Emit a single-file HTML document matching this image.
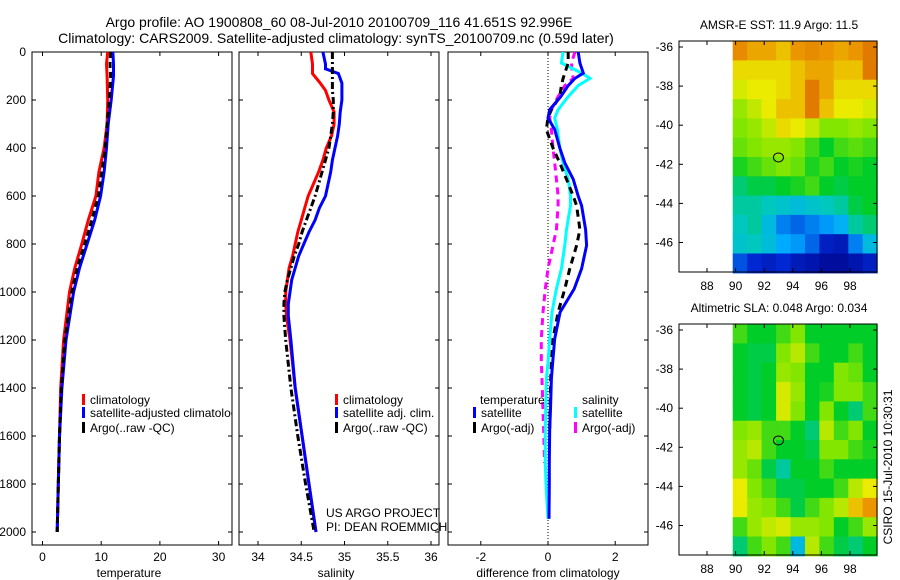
<!DOCTYPE html>
<html><head><meta charset="utf-8"><style>
html,body{margin:0;padding:0;background:#fff;}
svg{display:block;font-family:"Liberation Sans",sans-serif;}
</style></head><body>
<svg id="fig" width="900" height="580" viewBox="0 0 900 580">
<defs><clipPath id="c1"><rect x="32" y="52" width="200" height="493"/></clipPath>
<clipPath id="c2"><rect x="239" y="52" width="200" height="493"/></clipPath>
<clipPath id="c3"><rect x="448" y="52" width="200" height="493"/></clipPath></defs>
<text x="339" y="27" font-size="14" text-anchor="middle">Argo profile: AO 1900808_60 08-Jul-2010 20100709_116 41.651S 92.996E</text>
<text x="336" y="43" font-size="14" text-anchor="middle">Climatology: CARS2009. Satellite-adjusted climatology: synTS_20100709.nc (0.59d later)</text>
<g id="g"></g>
</svg>
<script>
// ---- profile data (depth in m) ----
const tDepth=[0,50,100,200,300,400,500,600,700,800,900,1000,1200,1400,1600,1800,2000];
const tClim=[11.1,10.9,11.0,11.1,11.0,10.5,9.6,9.1,7.8,6.7,5.5,4.6,3.6,3.1,2.9,2.7,2.5];
const tSat=[12.0,12.1,12.1,11.7,11.2,10.9,10.5,9.9,8.9,7.6,6.3,5.3,4.0,3.3,2.9,2.7,2.5];
const tArgo=[11.6,11.5,11.6,11.4,11.0,10.7,10.1,9.5,8.4,7.2,5.9,5.0,3.8,3.2,2.9,2.7,2.5];
const sDepth=[0,50,70,90,130,160,200,250,300,350,400,450,500,550,600,650,700,750,800,850,900,950,1000,1050,1100,1200,1400,1600,1800,2000];
const sClim=[34.61,34.63,34.63,34.63,34.72,34.78,34.82,34.88,34.88,34.85,34.79,34.75,34.70,34.64,34.58,34.54,34.50,34.46,34.43,34.40,34.36,34.34,34.32,34.32,34.33,34.37,34.43,34.51,34.59,34.67];
const sSat=[34.75,34.78,34.78,34.93,34.97,34.97,34.97,34.95,34.94,34.92,34.89,34.86,34.84,34.81,34.78,34.71,34.66,34.59,34.53,34.47,34.43,34.39,34.37,34.35,34.35,34.38,34.43,34.51,34.59,34.67];
const sArgo=[34.86,34.86,34.86,34.86,34.86,34.86,34.87,34.87,34.86,34.84,34.82,34.78,34.74,34.70,34.66,34.61,34.56,34.51,34.47,34.42,34.38,34.34,34.31,34.30,34.30,34.32,34.38,34.46,34.55,34.65];
const dDepth=[0,46,88,110,140,186,240,275,323,400,462,530,600,640,740,806,903,987,1084,1195,1292,1362,1500,1570,1713,1800,1945];
const dTSat=[0.9,0.95,1.05,0.8,0.6,0.38,0.05,0.0,0.2,0.35,0.5,0.75,0.9,1.0,1.12,1.15,1.0,0.78,0.36,0.2,0.14,0.1,0.07,0.05,0.04,0.04,0.03];
const dTArgo=[0.6,0.6,0.5,0.45,0.4,0.35,0.1,0.0,-0.05,0.15,0.35,0.55,0.75,0.85,0.95,0.85,0.65,0.5,0.3,0.15,0.1,0.08,0.06,0.05,null,null,null];
const dSSat=[0.45,0.4,1.0,1.25,0.9,0.6,0.3,0.2,0.28,0.35,0.45,0.6,0.67,0.67,0.55,0.5,0.4,0.25,0.12,0.05,0.0,-0.05,-0.07,-0.08,-0.08,-0.06,0.0];
const dSArgo=[0.8,0.7,0.72,0.75,0.5,0.3,0.1,0.05,0.1,0.15,0.2,0.25,0.3,0.3,0.25,0.15,0.0,-0.08,-0.15,-0.2,-0.2,-0.18,-0.15,-0.13,-0.1,null,null];
// ---- map data (values 0..1 on colormap), rows lat -36..-47, cols lon 90..99 ----
const sstGrid=[
[0.82,0.78,0.78,0.75,0.80,0.82,0.80,0.78,0.80,0.85],
[0.72,0.72,0.72,0.72,0.75,0.78,0.78,0.75,0.75,0.85],
[0.68,0.70,0.70,0.72,0.75,0.85,0.78,0.72,0.72,0.72],
[0.62,0.66,0.70,0.75,0.75,0.85,0.75,0.70,0.70,0.68],
[0.60,0.62,0.66,0.72,0.70,0.66,0.60,0.60,0.62,0.60],
[0.58,0.60,0.62,0.62,0.60,0.55,0.50,0.55,0.57,0.55],
[0.52,0.55,0.58,0.60,0.58,0.52,0.55,0.50,0.52,0.50],
[0.45,0.48,0.48,0.50,0.52,0.55,0.50,0.48,0.50,0.50],
[0.42,0.42,0.40,0.38,0.36,0.38,0.40,0.42,0.48,0.50],
[0.40,0.42,0.35,0.25,0.22,0.25,0.28,0.32,0.42,0.45],
[0.38,0.40,0.36,0.30,0.28,0.22,0.12,0.10,0.25,0.35],
[0.20,0.15,0.12,0.15,0.10,0.08,0.05,0.05,0.08,0.12]];
const slaGrid=[
[0.55,0.50,0.50,0.55,0.60,0.50,0.50,0.50,0.50,0.50],
[0.50,0.48,0.48,0.60,0.65,0.55,0.50,0.50,0.55,0.50],
[0.50,0.48,0.50,0.62,0.60,0.50,0.50,0.60,0.58,0.50],
[0.50,0.48,0.50,0.68,0.62,0.50,0.52,0.60,0.60,0.55],
[0.50,0.48,0.50,0.68,0.60,0.50,0.60,0.50,0.45,0.55],
[0.60,0.62,0.55,0.55,0.50,0.45,0.65,0.55,0.60,0.50],
[0.62,0.65,0.55,0.50,0.50,0.48,0.60,0.60,0.55,0.52],
[0.62,0.58,0.48,0.42,0.50,0.50,0.55,0.50,0.50,0.50],
[0.70,0.60,0.55,0.48,0.48,0.50,0.50,0.55,0.65,0.70],
[0.70,0.62,0.60,0.55,0.48,0.55,0.60,0.65,0.75,0.80],
[0.55,0.62,0.66,0.68,0.62,0.62,0.60,0.50,0.55,0.62],
[0.45,0.55,0.60,0.55,0.35,0.65,0.55,0.48,0.45,0.50]];
const depthTicks=[0,200,400,600,800,1000,1200,1400,1600,1800,2000];
const tTicks=[0,10,20,30];
const sTicks=[34,34.5,35,35.5,36];
const sTickLabels=["34","34.5","35","35.5","36"];
const dTicks=[-2,0,2];
const latTicks=[-36,-38,-40,-42,-44,-46];
const lonTicks=[88,90,92,94,96,98];

const NS='http://www.w3.org/2000/svg';
const G=document.getElementById('g');
function mk(tag,attrs,parent){const e=document.createElementNS(NS,tag);for(const k in attrs)e.setAttribute(k,attrs[k]);(parent||G).appendChild(e);return e;}
const yD=d=>52+d*0.24;
const xT=v=>42.5+v*5.87;
const xS=v=>258+(v-34)*86.5;
const xD=v=>548+v*33.6;
function line(depths,vals,xf,color,dash,clip,name){
  let d='';let started=false;
  depths.forEach((z,i)=>{const v=vals[i];if(v===null){started=false;return;}d+=(started?'L':'M')+xf(v).toFixed(1)+' '+yD(z).toFixed(1);started=true;});
  const p=mk('path',{d:d,fill:'none',stroke:color,'stroke-width':3,'clip-path':'url(#'+clip+')'});
  if(dash)p.setAttribute('stroke-dasharray',dash);
  
  
}
function panel(x0,name,xt,xf,labels,xlabel,left){
  const r=mk('rect',{x:x0,y:52,width:200,height:493,fill:'none',stroke:'#000','stroke-width':1});
  
  
  depthTicks.forEach(d=>{const y=yD(d);
    mk('line',{x1:x0,y1:y,x2:x0+4,y2:y,stroke:'#000'});mk('line',{x1:x0+200,y1:y,x2:x0+196,y2:y,stroke:'#000'});
    if(left){const t=mk('text',{x:x0-6,y:y+4,'font-size':12,'text-anchor':'end'});t.textContent=d;
      
      }
  });
  xt.forEach((v,i)=>{const x=xf(v);
    mk('line',{x1:x,y1:545,x2:x,y2:541,stroke:'#000'});mk('line',{x1:x,y1:52,x2:x,y2:56,stroke:'#000'});
    const t=mk('text',{x:x,y:561,'font-size':12,'text-anchor':'middle'});t.textContent=labels[i];
    
    
  });
  const t=mk('text',{x:x0+(name==='diff-panel'?100:97),y:577,'font-size':12,'text-anchor':'middle'});t.textContent=xlabel;
  
  
}
panel(32,'temperature-panel',tTicks,xT,tTicks.map(String),'temperature',true);
panel(239,'salinity-panel',sTicks,xS,sTickLabels,'salinity',false);
panel(448,'diff-panel',dTicks,xD,dTicks.map(String),'difference from climatology',false);
mk('line',{x1:548,y1:52,x2:548,y2:545,stroke:'#000','stroke-dasharray':'1,2','stroke-width':1});

line(tDepth,tClim,xT,'#f00',null,'c1','temp-climatology-line');
line(tDepth,tSat,xT,'#00f',null,'c1','temp-satellite-line');
line(tDepth,tArgo,xT,'#000','6,4','c1','temp-argo-line');
line(sDepth,sClim,xS,'#f00',null,'c2','sal-climatology-line');
line(sDepth,sSat,xS,'#00f',null,'c2','sal-satellite-line');
line(sDepth,sArgo,xS,'#000','7,3,2,3','c2','sal-argo-line');
line(dDepth,dSArgo,xD,'#f0f','7,5','c3','diff-sal-argo-line');
line(dDepth,dSSat,xD,'#0ff',null,'c3','diff-sal-satellite-line');
line(dDepth,dTArgo,xD,'#000','7,5','c3','diff-temp-argo-line');
line(dDepth,dTSat,xD,'#00f',null,'c3','diff-temp-satellite-line');

function legend(x,y,color,label,clip){
  const g=mk('g',clip?{'clip-path':'url(#'+clip+')'}:{});
  
  
  if(color)mk('rect',{x:x-8,y:y-10,width:3,height:11,fill:color},g);
  const t=mk('text',{x:x,y:y,'font-size':12},g);t.textContent=label;
}
legend(90,404,'#f00','climatology','c1');
legend(90,417,'#00f','satellite-adjusted climatology','c1');
legend(90,432,'#000','Argo(..raw -QC)','c1');
legend(343,404,'#f00','climatology');
legend(343,417,'#00f','satellite adj. clim.');
legend(343,432,'#000','Argo(..raw -QC)');
legend(480,404,null,'temperature');
legend(481,417,'#00f','satellite');
legend(481,432,'#000','Argo(-adj)');
legend(582,404,null,'salinity');
legend(582,417,'#0ff','satellite');
legend(582,432,'#f0f','Argo(-adj)');
[['US ARGO PROJECT',517],['PI: DEAN ROEMMICH',531]].forEach(a=>{const t=mk('text',{x:326,y:a[1],'font-size':12});t.textContent=a[0];
  
  });

// ---- maps ----
const stops=[[0,[0,0,130]],[0.15,[0,40,210]],[0.3,[0,170,255]],[0.4,[0,200,190]],[0.5,[0,205,40]],[0.6,[130,230,0]],[0.7,[235,235,0]],[0.8,[235,150,0]],[0.9,[215,95,0]],[1,[170,40,0]]];
function cmap(v){for(let i=1;i<stops.length;i++){if(v<=stops[i][0]){const a=stops[i-1],b=stops[i],f=(v-a[0])/(b[0]-a[0]);const c=a[1].map((q,k)=>Math.round(q+(b[1][k]-q)*f));return 'rgb('+c+')';}}return 'rgb(170,40,0)';}
function map(top,grid,title,name){
  const lonX=l=>707+(l-88)*14.3;
  const latY=l=>top+6+(-36-l)*19.55;
  const t=mk('text',{x:779,y:top-12,'font-size':12,'text-anchor':'middle'});t.textContent=title;
  
  
  const rows=grid.length,cols=grid[0].length;
  const lon0=89.8,lon1=99.9,lat0=-35.7,lat1=-47.55;
  grid.forEach((row,r)=>row.forEach((v,c)=>{
    const x1=lonX(lon0+(lon1-lon0)*c/cols),x2=lonX(lon0+(lon1-lon0)*(c+1)/cols);
    const y1=latY(lat0+(lat1-lat0)*r/rows),y2=latY(lat0+(lat1-lat0)*(r+1)/rows);
    const e=mk('rect',{x:x1.toFixed(1),y:y1.toFixed(1),width:(x2-x1+0.6).toFixed(1),height:(y2-y1+0.6).toFixed(1),fill:cmap(v)});
    
    
  }));
  const b=mk('rect',{x:679,y:top,width:198,height:231,fill:'none',stroke:'#000'});
  
  
  latTicks.forEach(l=>{const y=latY(l);mk('line',{x1:679,y1:y,x2:683,y2:y,stroke:'#000'});mk('line',{x1:877,y1:y,x2:873,y2:y,stroke:'#000'});
    const tt=mk('text',{x:673,y:y+4,'font-size':12,'text-anchor':'end'});tt.textContent=l;
    
    });
  lonTicks.forEach(l=>{const x=lonX(l);mk('line',{x1:x,y1:top+231,x2:x,y2:top+227,stroke:'#000'});mk('line',{x1:x,y1:top,x2:x,y2:top+4,stroke:'#000'});
    const tt=mk('text',{x:x,y:top+249,'font-size':12,'text-anchor':'middle'});tt.textContent=l;
    
    });
  const c=mk('ellipse',{cx:lonX(92.996),cy:latY(-41.651),rx:5,ry:4.5,fill:'none',stroke:'#000','stroke-width':1});
  
  
}
map(41,sstGrid,'AMSR-E SST: 11.9 Argo: 11.5','sst-map');
map(324,slaGrid,'Altimetric SLA: 0.048 Argo: 0.034','sla-map');
const cs=mk('text',{x:0,y:0,'font-size':12,'text-anchor':'middle',transform:'translate(892,467) rotate(-90)'});
cs.textContent='CSIRO 15-Jul-2010 10:30:31';


</script>
</body></html>
